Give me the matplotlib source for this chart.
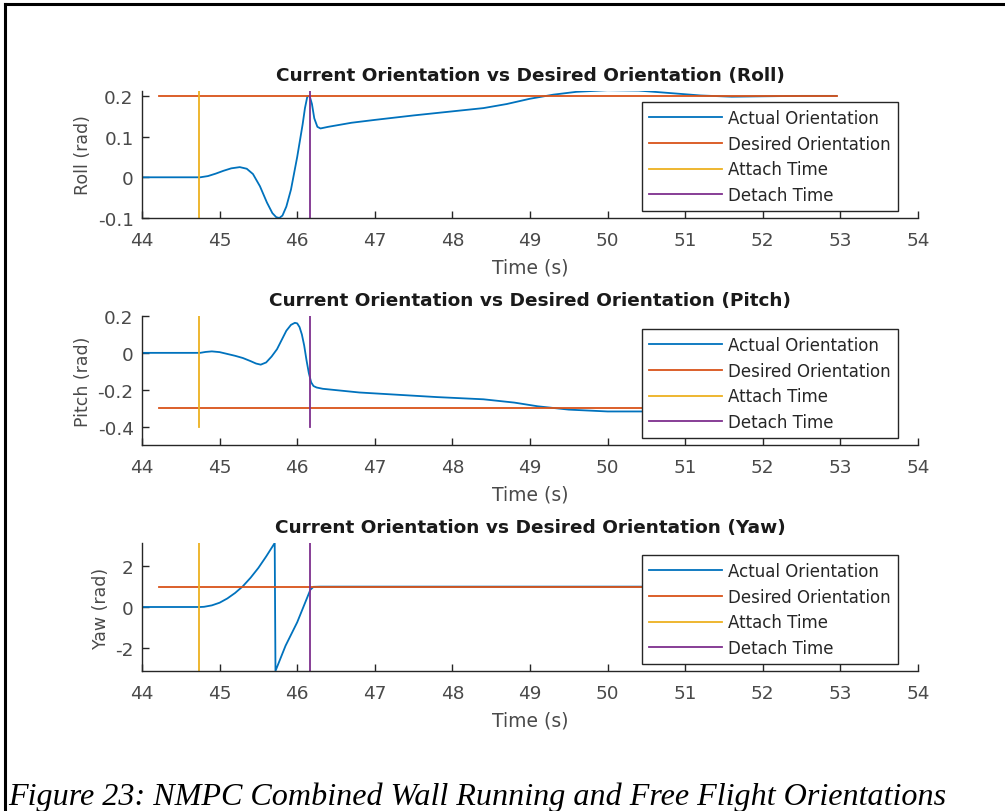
import numpy as np
import matplotlib.pyplot as plt
from matplotlib.lines import Line2D

# time (s) and orientation samples (rad)
roll_t = [44.0, 44.75, 44.85, 44.95, 45.05, 45.15, 45.26, 45.35, 45.43, 45.52,
          45.61, 45.68, 45.73, 45.77, 45.81, 45.86, 45.92, 46.0, 46.07, 46.1,
          46.13, 46.16, 46.19, 46.22, 46.26, 46.3, 46.4,
          46.7, 47.0, 47.5, 48.0, 48.4, 48.7, 49.0, 49.3, 49.6, 50.0,
          50.4, 50.8, 51.2, 51.6, 52.0, 52.5, 52.95]
roll_v = [0.0, 0.0, 0.003, 0.009, 0.016, 0.022, 0.025, 0.021, 0.008, -0.022,
          -0.062, -0.088, -0.098, -0.1, -0.094, -0.072, -0.03, 0.05, 0.13, 0.17,
          0.198, 0.2, 0.18, 0.145, 0.124, 0.12, 0.124,
          0.134, 0.141, 0.152, 0.162, 0.17, 0.18, 0.193, 0.203, 0.21, 0.214,
          0.213, 0.207, 0.201, 0.198, 0.199, 0.2, 0.2]

pitch_t = [44.0, 44.75, 44.82, 44.9, 45.0, 45.1, 45.2, 45.3, 45.4, 45.47,
           45.53, 45.6, 45.67, 45.74, 45.8, 45.86, 45.92, 45.97, 46.0, 46.03,
           46.06, 46.09, 46.12, 46.15, 46.18, 46.21, 46.25, 46.33,
           46.8, 47.2, 47.8, 48.4, 48.8, 49.1, 49.5, 50.0, 50.5, 51.0,
           51.5, 52.0, 52.95]
pitch_v = [0.0, 0.0, 0.005, 0.008, 0.004, -0.006, -0.016, -0.028, -0.045, -0.058,
           -0.064, -0.052, -0.02, 0.02, 0.07, 0.12, 0.152, 0.163, 0.16, 0.14,
           0.1, 0.04, -0.04, -0.11, -0.16, -0.18, -0.188, -0.195,
           -0.215, -0.225, -0.24, -0.252, -0.27, -0.29, -0.308, -0.318, -0.318, -0.31,
           -0.302, -0.3, -0.3]

yaw_t = [44.0, 44.75, 44.8, 44.9, 45.0, 45.1, 45.2, 45.3, 45.4, 45.5,
         45.6, 45.71, 45.72, 45.85, 46.0, 46.17, 46.21, 46.3, 52.95]
yaw_v = [0.0, 0.0, 0.01, 0.08, 0.21, 0.42, 0.69, 1.02, 1.44, 1.92,
         2.48, 3.14, -3.14, -1.9, -0.75, 0.85, 0.99, 1.0, 1.0]

desired_t = [44.22, 52.96]
desired = {'Roll': 0.2, 'Pitch': -0.3, 'Yaw': 1.0}

attach_time = 44.74
detach_time = 46.17
vline_span = {'Roll': (-0.1, 0.212), 'Pitch': (-0.4, 0.2), 'Yaw': (-np.pi, np.pi)}

ylims = {'Roll': (-0.1, 0.212), 'Pitch': (-0.5, 0.2), 'Yaw': (-np.pi, np.pi)}
yticks = {'Roll': [-0.1, 0, 0.1, 0.2], 'Pitch': [-0.4, -0.2, 0, 0.2], 'Yaw': [-2, 0, 2]}
yticklabels = {'Roll': ['-0.1', '0', '0.1', '0.2'], 'Pitch': ['-0.4', '-0.2', '0', '0.2'],
               'Yaw': ['-2', '0', '2']}
xticks = list(range(44, 55))

c_blue, c_orange, c_yellow, c_purple = '#0072BD', '#D95319', '#EDB120', '#7E2F8E'
c_axis = '#262626'
c_text = '#4a4a4a'

plt.rcParams['font.family'] = ['DejaVu Sans']

fig = plt.figure(figsize=(10.05, 8.12), dpi=100)
W, H = 1005.0, 812.0

# axes boxes in pixels: (top, bottom)
boxes = {'Roll': (92, 219), 'Pitch': (317, 446), 'Yaw': (544, 672)}
series = {'Roll': (roll_t, roll_v), 'Pitch': (pitch_t, pitch_v), 'Yaw': (yaw_t, yaw_v)}
x0, x1 = 142, 918

for name in ['Roll', 'Pitch', 'Yaw']:
    top, bot = boxes[name]
    ax = fig.add_axes([x0 / W, 1 - bot / H, (x1 - x0) / W, (bot - top) / H])
    t, v = series[name]
    ax.plot(t, v, color=c_blue, lw=1.3, label='Actual Orientation')
    ax.plot(desired_t, [desired[name]] * 2, color=c_orange, lw=1.3, label='Desired Orientation')
    lo, hi = vline_span[name]
    ax.plot([attach_time, attach_time], [lo, hi], color=c_yellow, lw=1.3, label='Attach Time')
    ax.plot([detach_time, detach_time], [lo, hi], color=c_purple, lw=1.3, label='Detach Time')

    ax.set_xlim(44, 54)
    ax.set_ylim(*ylims[name])
    ax.set_xticks(xticks)
    ax.set_yticks(yticks[name])
    ax.set_yticklabels(yticklabels[name])
    for s in ['top', 'right']:
        ax.spines[s].set_visible(False)
    for s in ['left', 'bottom']:
        ax.spines[s].set_color(c_axis)
        ax.spines[s].set_linewidth(1.0)
    ax.tick_params(direction='in', length=5, width=1.0, colors=c_axis,
                   labelcolor=c_text, labelsize=13.3)
    ax.tick_params(axis='x', pad=9.5)
    ax.tick_params(axis='y', pad=6)
    ax.set_xlabel('Time (s)', fontsize=13.5, color=c_text, labelpad=6)
    ax.set_ylabel(name + ' (rad)', fontsize=12.5, color=c_text, labelpad=4)
    ax.set_title('Current Orientation vs Desired Orientation (' + name + ')',
                 fontsize=13.3, fontweight='bold', color='#1a1a1a', pad=8)

    lbox_right = (898 - x0) / (x1 - x0)
    lbox_bottom = 7.0 / (bot - top)
    leg = ax.legend(loc='lower right', bbox_to_anchor=(lbox_right, lbox_bottom),
                    borderaxespad=0, fontsize=12, frameon=True, fancybox=False,
                    framealpha=1, handlelength=4.4, handletextpad=0.36,
                    labelspacing=0.46, borderpad=0.42, labelcolor='#262626')
    leg.get_frame().set_edgecolor(c_axis)
    leg.get_frame().set_linewidth(1.0)

# caption
fig.text(8 / W, 1 - 805 / H,
         'Figure 23: NMPC Combined Wall Running and Free Flight Orientations',
         fontsize=23.1, fontstyle='italic', family=['Liberation Serif'], color='black',
         ha='left', va='baseline')

# page frame lines (top and left)
fig.add_artist(Line2D([5 / W, 1.0], [1 - 5 / H, 1 - 5 / H], color='black', lw=2.2,
                      transform=fig.transFigure))
fig.add_artist(Line2D([5 / W, 5 / W], [0, 1 - 5 / H], color='black', lw=2.2,
                      transform=fig.transFigure))

fig.savefig('out.png', dpi=100, facecolor='white')
